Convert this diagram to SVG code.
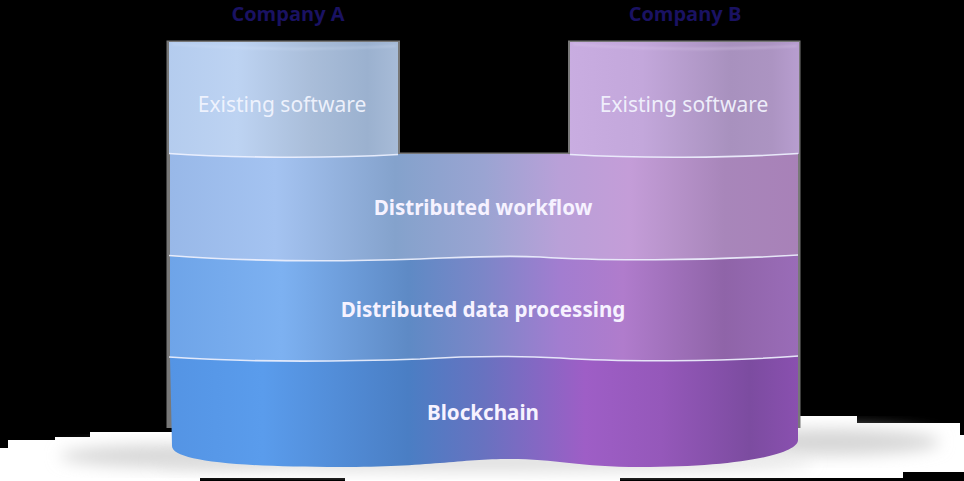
<svg xmlns="http://www.w3.org/2000/svg" width="964" height="481" viewBox="0 0 964 481">
  <defs>
    <linearGradient id="gLeft" gradientUnits="userSpaceOnUse" x1="168" y1="0" x2="400" y2="0">
      <stop offset="0" stop-color="#b4ccee"/>
      <stop offset="0.3" stop-color="#bdd3f2"/>
      <stop offset="0.62" stop-color="#a9bdd9"/>
      <stop offset="0.86" stop-color="#9bb1cf"/>
      <stop offset="1" stop-color="#a8bcd8"/>
    </linearGradient>
    <linearGradient id="gRight" gradientUnits="userSpaceOnUse" x1="568" y1="0" x2="800" y2="0">
      <stop offset="0" stop-color="#c9ade1"/>
      <stop offset="0.32" stop-color="#c3a7db"/>
      <stop offset="0.7" stop-color="#a891be"/>
      <stop offset="0.88" stop-color="#ac94c2"/>
      <stop offset="1" stop-color="#b89ed0"/>
    </linearGradient>
    <linearGradient id="gWork" gradientUnits="userSpaceOnUse" x1="168" y1="0" x2="800" y2="0">
      <stop offset="0" stop-color="#98b8e8"/>
      <stop offset="0.17" stop-color="#a4c3f1"/>
      <stop offset="0.36" stop-color="#84a2cc"/>
      <stop offset="0.5" stop-color="#9aa4d2"/>
      <stop offset="0.62" stop-color="#b9a0d8"/>
      <stop offset="0.73" stop-color="#c49dd8"/>
      <stop offset="0.88" stop-color="#a886ba"/>
      <stop offset="1" stop-color="#a881b8"/>
    </linearGradient>
    <linearGradient id="gData" gradientUnits="userSpaceOnUse" x1="168" y1="0" x2="800" y2="0">
      <stop offset="0" stop-color="#6ea4e8"/>
      <stop offset="0.18" stop-color="#7db1f1"/>
      <stop offset="0.38" stop-color="#5e8ac5"/>
      <stop offset="0.5" stop-color="#7c86c8"/>
      <stop offset="0.62" stop-color="#a27dd0"/>
      <stop offset="0.72" stop-color="#b07ccc"/>
      <stop offset="0.88" stop-color="#8f64a8"/>
      <stop offset="1" stop-color="#9a6cb8"/>
    </linearGradient>
    <linearGradient id="gBlock" gradientUnits="userSpaceOnUse" x1="168" y1="0" x2="800" y2="0">
      <stop offset="0" stop-color="#5494e4"/>
      <stop offset="0.15" stop-color="#5a9cec"/>
      <stop offset="0.38" stop-color="#4a7ec4"/>
      <stop offset="0.5" stop-color="#6872c0"/>
      <stop offset="0.66" stop-color="#9e5ec6"/>
      <stop offset="0.78" stop-color="#9558ba"/>
      <stop offset="0.92" stop-color="#7c4ca0"/>
      <stop offset="1" stop-color="#8a50b0"/>
    </linearGradient>
    <filter id="blur" x="-50%" y="-50%" width="200%" height="200%">
      <feGaussianBlur stdDeviation="8"/>
    </filter>
    <filter id="blur2" x="-50%" y="-50%" width="200%" height="200%">
      <feGaussianBlur stdDeviation="1.2"/>
    </filter>
  </defs>
  <style>
    .title { font-family: "Open Sans", "Noto Sans", "Liberation Sans", sans-serif; font-weight: 700; font-size: 20px; fill: #1a1262; text-anchor: middle; }
    .soft { font-family: "Noto Sans", "Open Sans", "Liberation Sans", sans-serif; font-size: 21px; fill: #f4f6ff; fill-opacity: 0.92; text-anchor: middle; }
    .bold { font-family: "Noto Sans", "Open Sans", "Liberation Sans", sans-serif; font-weight: 700; font-size: 20.6px; fill: #f6f2ff; text-anchor: middle; }
    .sep { fill: none; stroke: #eef2ff; stroke-width: 1.6; stroke-opacity: 0.9; }
  </style>

  <rect x="0" y="0" width="964" height="481" fill="#000000"/>

  <!-- white floor area with soft shadow -->
  <path d="M0,448 H8 V440 H55 V437 H90 V432 H200 V420 H797 V416 H857 V423 H960 V435 H964 V472 H903 V478 H620 V481 H345 V478 H200 V481 H0 Z" fill="#ffffff"/>
  <ellipse cx="175" cy="456" rx="115" ry="11" fill="#d6d6d6" filter="url(#blur)"/>
  <ellipse cx="830" cy="442" rx="110" ry="13" fill="#d6d6d6" filter="url(#blur)"/>
  <ellipse cx="483" cy="462" rx="330" ry="9" fill="#dddddd" filter="url(#blur)"/>

  <!-- gray outline artifact behind shapes -->
  <path d="M166.5,40.5 H400 V152.5 H568 V40.5 H800.5 V428 H166.5 Z" fill="#787878"/>

  <!-- titles -->
  <g id="companyA">
    <text class="title" x="288" y="21">Company A</text>
  </g>
  <g id="companyB">
    <text class="title" x="685" y="21">Company B</text>
  </g>

  <!-- Blockchain layer -->
  <g id="blockchain">
    <path d="M170,357 C240,362 330,362 420,359 C470,356 520,356 560,358 C620,362 720,362 798,356 L798,440 C798,454 740,467 640,467 C580,467 555,459 510,459 C460,459 430,467 340,467 C230,467 172,460 172,446 Z" fill="url(#gBlock)"/>
    <text class="bold" x="483" y="420">Blockchain</text>
  </g>

  <!-- Distributed data processing layer -->
  <g id="dataProcessing">
    <path d="M170,256 C240,261 330,262 420,259 C470,257 500,255 540,257 C600,261 700,261 798,255 L798,357 C720,362 620,362 560,358 C520,356 470,356 420,359 C330,362 240,362 170,357 Z" fill="url(#gData)"/>
    <text class="bold" x="483" y="317">Distributed data processing</text>
  </g>

  <!-- Distributed workflow layer -->
  <g id="workflow">
    <path d="M170,154 H798 L798,255 C700,261 600,261 540,257 C500,255 470,257 420,259 C330,262 240,261 170,256 Z" fill="url(#gWork)"/>
    <text class="bold" x="483" y="215">Distributed workflow</text>
  </g>

  <!-- Existing software A -->
  <g id="softwareA">
    <path d="M169,42 H398 V154 C330,158 240,158 169,154 Z" fill="url(#gLeft)"/>
    <path d="M172,44 C240,50 330,50 396,46" fill="none" stroke="#dce8fb" stroke-width="1.2" stroke-opacity="0.5" filter="url(#blur2)"/>
    <text class="soft" x="282" y="112">Existing software</text>
  </g>

  <!-- Existing software B -->
  <g id="softwareB">
    <path d="M570,42 H799 V154 C730,158 640,158 570,154 Z" fill="url(#gRight)"/>
    <path d="M573,44 C640,50 730,50 797,46" fill="none" stroke="#eadcf6" stroke-width="1.2" stroke-opacity="0.5" filter="url(#blur2)"/>
    <text class="soft" x="684" y="112">Existing software</text>
  </g>

  <!-- layer separators -->
  <g id="connectors">
    <path class="sep" d="M169,153.5 C230,158 330,158.5 398,154.5"/>
    <path class="sep" d="M570,154.5 C640,158.5 730,158 798,153.5"/>
    <path class="sep" d="M169,255.5 C240,261 330,262 420,259 C470,257 500,255 540,257 C600,261 700,261 798,255"/>
    <path class="sep" d="M169,357 C240,362 330,362 420,359 C470,356 520,356 560,358 C620,362 720,362 798,356"/>
  </g>
</svg>
